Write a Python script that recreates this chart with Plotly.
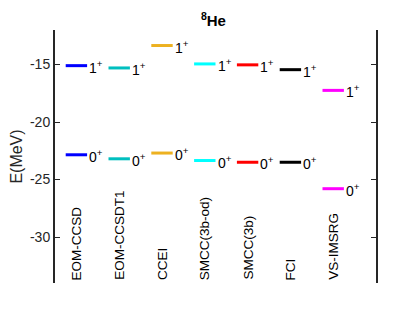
import plotly.graph_objects as go

# level energies (MeV) for 8He
methods = ['EOM-CCSD', 'EOM-CCSDT1', 'CCEI', 'SMCC(3b-od)', 'SMCC(3b)', 'FCI', 'VS-IMSRG']
e_1plus = [-15.1, -15.3, -13.35, -14.95, -15.03, -15.45, -17.25]
e_0plus = [-22.85, -23.2, -22.7, -23.35, -23.5, -23.5, -25.8]
colors = ['#0000FF', '#00BFBF', '#EDB120', '#00FFFF', '#FF0000', '#000000', '#FF00FF']
state_labels = ['1<sup>+</sup>', '0<sup>+</sup>']
ytick_vals = [-15, -20, -25, -30]
ytick_text = ['-15', '-20', '-25', '-30']

font = 'Liberation Sans, Arial, sans-serif'
half = 0.25

fig = go.Figure()
annotations = []

for i, m in enumerate(methods):
    xc = i + 1
    for e, lab in zip([e_1plus[i], e_0plus[i]], state_labels):
        fig.add_trace(go.Scatter(
            x=[xc - half, xc + half], y=[e, e], mode='lines',
            line=dict(color=colors[i], width=3), showlegend=False, hoverinfo='skip'))
        annotations.append(dict(
            x=xc + half, y=e, xref='x', yref='y', text=lab, showarrow=False,
            xanchor='left', yanchor='middle', yshift=-1, xshift=0,
            font=dict(family=font, size=14, color='#000000')))
    # method name, rotated, sitting on the bottom of the axes
    annotations.append(dict(
        x=xc, y=-34, xref='x', yref='y', text=m, showarrow=False, textangle=-90,
        xanchor='center', yanchor='bottom', yshift=1,
        font=dict(family=font, size=13.5, color='#000000')))

fig.update_layout(
    width=415, height=317,
    margin=dict(l=47, r=47, t=22, b=42, autoexpand=False),
    paper_bgcolor='white', plot_bgcolor='white',
    title=dict(text='<sup>8</sup>He', x=0.495, xanchor='center', y=0.96, yanchor='middle',
               font=dict(family=font, size=15, color='#000000', weight='bold')),
    annotations=annotations,
    font=dict(family=font, size=14, color='#262626'),
)
fig.update_xaxes(range=[0.5, 8], showticklabels=False, showgrid=False, zeroline=False,
                 showline=False, ticks='', automargin=False)
fig.update_yaxes(range=[-34, -12], tickvals=ytick_vals, ticktext=ytick_text,
                 showgrid=False, zeroline=False, automargin=False,
                 showline=True, linecolor='#262626', linewidth=2, mirror='ticks',
                 ticks='inside', ticklen=5, tickwidth=1, tickcolor='#262626',
                 title=dict(text='E(MeV)', standoff=10, font=dict(size=16)))

fig.write_html('out.html')
